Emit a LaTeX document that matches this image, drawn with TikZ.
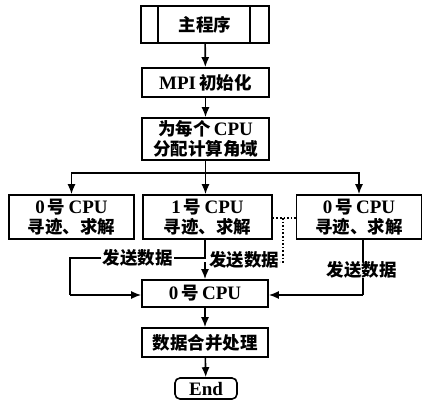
\documentclass[tikz,border=0pt]{standalone}
\usepackage{fontspec}
\setmainfont{Liberation Serif}
\newfontfamily\cjk{Noto Sans CJK SC}
\newcommand\zh[1]{{\cjk\bfseries\fontsize{17.5}{19.5}\selectfont #1}}
\usetikzlibrary{arrows.meta}
\tikzset{
  box/.style={draw, line width=1.6pt, rectangle, inner sep=0pt, align=center,
    font=\fontsize{19}{19.5}\selectfont\bfseries},
  lbl/.style={inner sep=1pt},
  ln/.style={line width=1.6pt},
  arr/.style={ln, -{Latex[length=10pt,width=8pt]}},
  dotl/.style={line width=1.6pt, dotted},
}
\begin{document}
\begin{tikzpicture}[x=1pt,y=-1pt]
\useasboundingbox (0,0) rectangle (423,402);
% boxes
\node[box, minimum width=128pt, minimum height=37pt] (main) at (205,24.5) {\zh{主程序}};
\draw[ln] ([xshift=18pt]main.north west) -- ([xshift=18pt]main.south west);
\draw[ln] ([xshift=-20pt]main.north east) -- ([xshift=-20pt]main.south east);
\node[box, minimum width=127pt, minimum height=29pt] (mpi) at (205.5,82.5) {MPI\,\zh{初始化}};
\node[box, minimum width=127pt, minimum height=42pt] (dist) at (205.5,139) {\zh{为每个}\,CPU\\\zh{分配计算角域}};
\node[box, minimum width=125pt, minimum height=44pt] (cpu0) at (71.5,217) {0\,\zh{号}\,CPU\\\zh{寻迹、求解}};
\node[box, minimum width=129pt, minimum height=44pt] (cpu1) at (207.5,217) {1\,\zh{号}\,CPU\\\zh{寻迹、求解}};
\node[box, minimum width=125pt, minimum height=44pt] (cpun) at (359,217) {0\,\zh{号}\,CPU\\\zh{寻迹、求解}};
\node[box, minimum width=126pt, minimum height=27pt] (recv) at (205,293.5) {0\,\zh{号}\,CPU};
\node[box, minimum width=126pt, minimum height=29pt] (merge) at (205,342.5) {\zh{数据合并处理}};
\node[box, minimum width=62pt, minimum height=21pt, rounded corners=5pt] (endn) at (206,388.5) {End};
% main flow
\draw[arr] (main) -- (mpi);
\draw[arr] (mpi) -- (dist);
\coordinate (j) at (205.5,173);
\draw[ln] (dist.south) -- (j);
\draw[arr] (j) -- (205.5,173 |- cpu1.north);
\draw[arr] (j) -| (cpu0.north);
\draw[arr] (j) -| (cpun.north);
\draw[arr] (recv) -- (merge);
\draw[arr] (merge) -- (endn);
% left path from cpu1
\node[lbl] (l1) at (137.5,258) {\zh{发送数据}};
\coordinate (c1) at (205,258);
\coordinate (c2) at (70,258);
\coordinate (c3) at (70,295);
\draw[ln] (205,239) -- (c1) -- (l1.east);
\draw[ln] (l1.west) -- (c2) -- (c3);
\draw[arr] (c3) -- (c3 -| recv.west);
% dotted path
\node[lbl] (l2) at (244,259.5) {\zh{发送数据}};
\coordinate (d1) at (283,218);
\coordinate (d2) at (283,262);
\draw[dotl] (cpu1.east |- d1) -- (cpun.west |- d1);
\draw[dotl] (d1) -- (d2) -- (l2.east |- d2);
\coordinate (a0) at (205,262);
\draw[arr] (a0) -- (a0 |- recv.north);
% right path
\node[lbl] (l3) at (361.5,270) {\zh{发送数据}};
\coordinate (r1) at (363,295);
\draw[ln] (363,239) -- (363,262);
\draw[ln] (363,278) -- (r1);
\draw[arr] (r1) -- (r1 -| recv.east);
\end{tikzpicture}
\end{document}
